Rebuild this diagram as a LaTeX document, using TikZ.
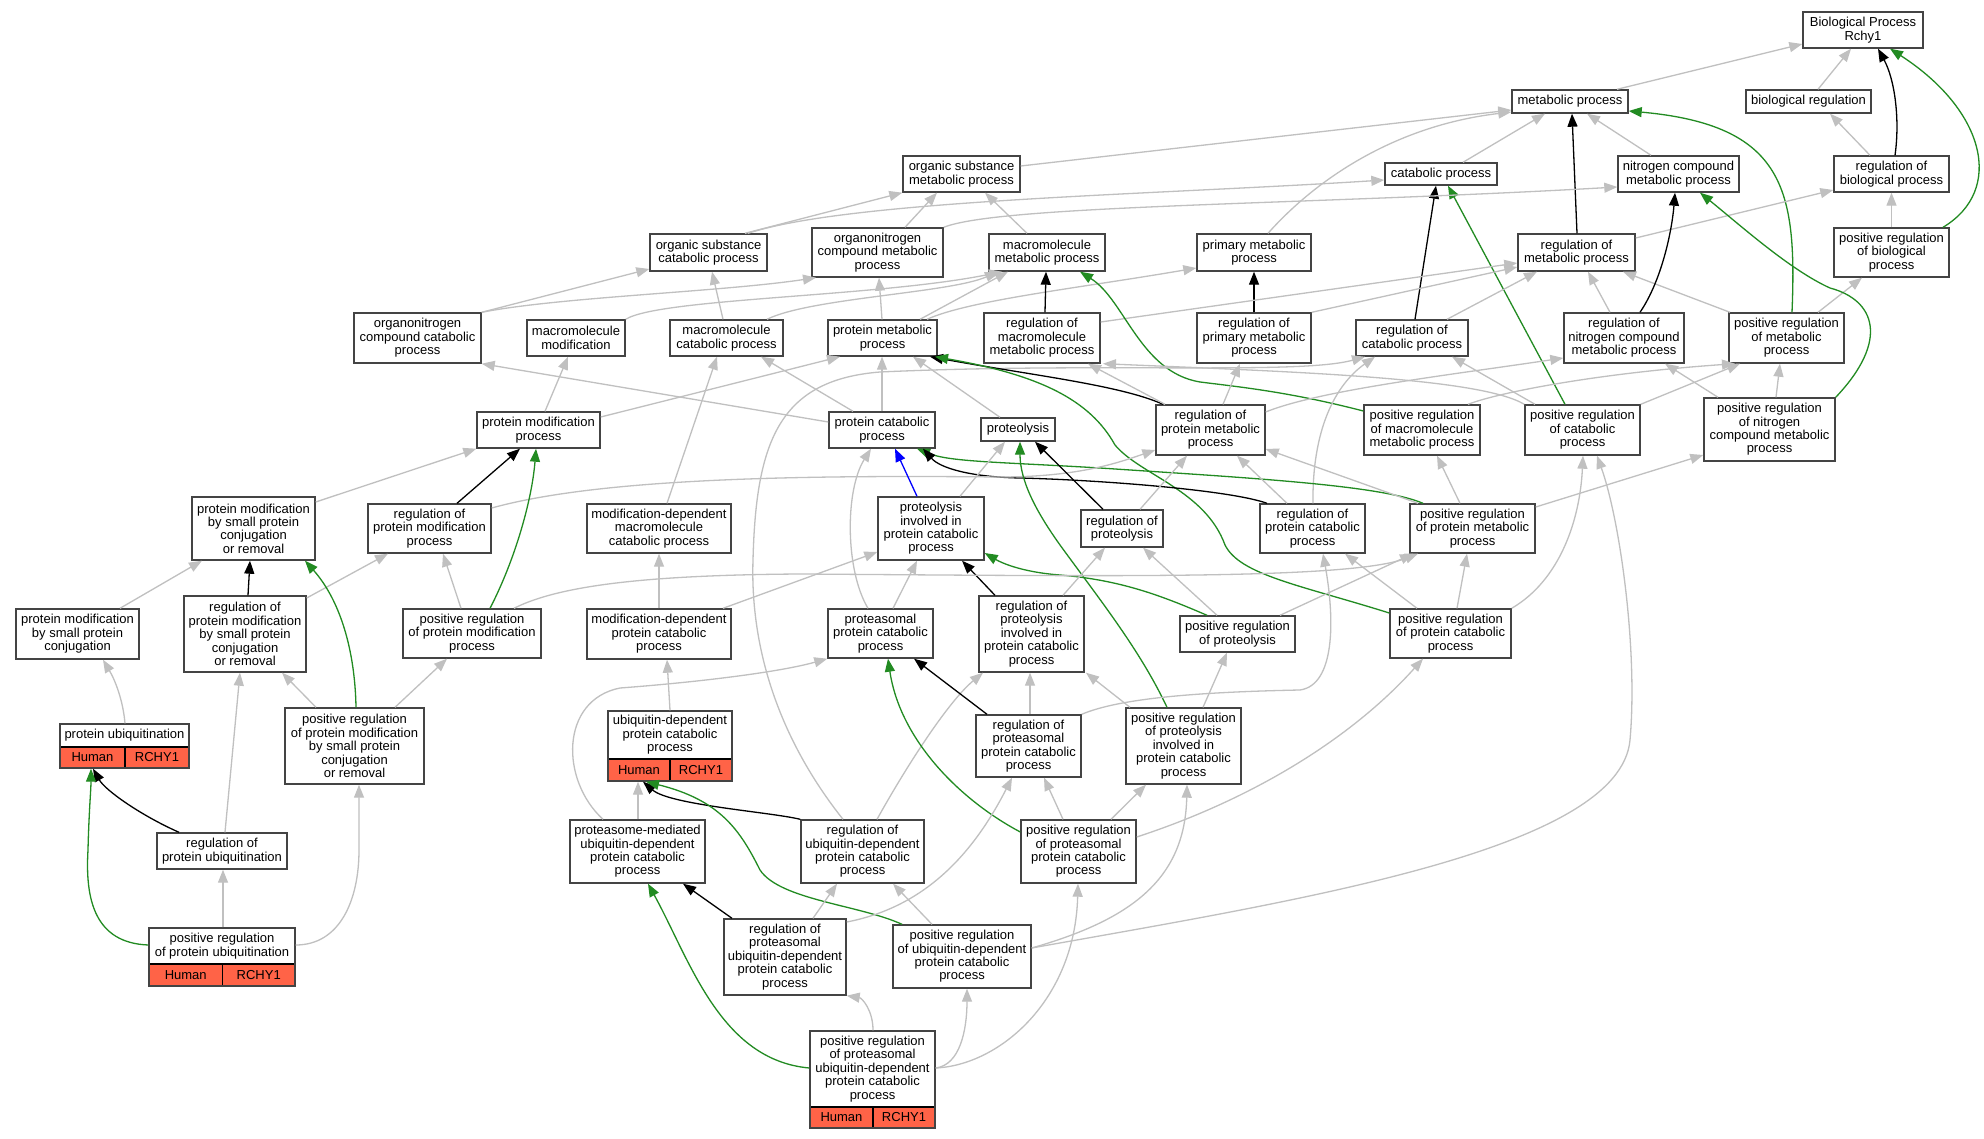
\documentclass[tikz,border=0pt]{standalone}
\usepackage{fontspec}
\setmainfont{Liberation Sans}
\usetikzlibrary{arrows.meta}
\definecolor{eg}{RGB}{192,192,192}
\definecolor{eG}{RGB}{34,139,34}
\definecolor{hred}{RGB}{255,99,71}
\definecolor{bline}{RGB}{68,68,68}
\tikzset{
 gbox/.style={draw=bline, line width=1.4pt, fill=white, rectangle, inner sep=0pt, align=center, font=\fontsize{13}{13.4}\selectfont},
 txt/.style={inner sep=0pt, align=center, font=\fontsize{13}{13.4}\selectfont},
 lnk/.style={line width=1.3pt, -{Triangle[length=13pt,width=10pt]}},
 ge/.style={lnk, draw=eg},
 be/.style={lnk, draw=black},
 gre/.style={lnk, draw=eG},
 ble/.style={lnk, draw=blue},
}
\newcommand\gonode[6]{\node[gbox, minimum width={(#4-#2)*1pt}, minimum height={(#5-#3)*1pt}] (#1) at ({(#2+#4)/2},{(#3+#5)/2}) {#6};}
\newcommand\gored[8]{%
 \node[gbox, minimum width={(#4-#2)*1pt}, minimum height={(#5-#3)*1pt}] (#1) at ({(#2+#4)/2},{(#3+#5)/2}) {};
 \fill[hred] (#2,#6) rectangle (#4,#5);
 \draw[black, line width=1.2pt] (#2,#6) -- (#4,#6) (#7,#6) -- (#7,#5);
 \draw[bline, line width=1.4pt] (#2,#3) rectangle (#4,#5);
 \node[txt] at ({(#2+#4)/2},{(#3+#6)/2}) {#8};
 \node[txt] at ({(#2+#7)/2},{(#6+#5)/2}) {Human};
 \node[txt] at ({(#7+#4)/2},{(#6+#5)/2}) {RCHY1};
}
\begin{document}
\begin{tikzpicture}[x=1pt,y=-1pt]
\useasboundingbox (0,0) rectangle (1984,1139);
\fill[white] (0,0) rectangle (1984,1139);
% nodes
\gonode{BP}{1803}{12}{1923}{48}{Biological Process\\Rchy1}
\gonode{MP}{1512}{90}{1628}{113}{metabolic process}
\gonode{BR}{1746}{90}{1871}{113}{biological regulation}
\gonode{OSMP}{903}{156}{1020}{192}{organic substance\\metabolic process}
\gonode{CP}{1385}{163}{1497}{185}{catabolic process}
\gonode{NCMP}{1618}{156}{1739}{192}{nitrogen compound\\metabolic process}
\gonode{RBP}{1834}{156}{1949}{192}{regulation of\\biological process}
\gonode{OSCP}{650}{234}{767}{271}{organic substance\\catabolic process}
\gonode{ONCMP}{812}{228}{943}{277}{organonitrogen\\compound metabolic\\process}
\gonode{MMP}{989}{234}{1105}{271}{macromolecule\\metabolic process}
\gonode{PrimMP}{1197}{234}{1311}{271}{primary metabolic\\process}
\gonode{RMP}{1518}{234}{1635}{271}{regulation of\\metabolic process}
\gonode{PRBP}{1834}{228}{1949}{277}{positive regulation\\of biological\\process}
\gonode{ONCCP}{354}{313}{481}{363}{organonitrogen\\compound catabolic\\process}
\gonode{MacroMod}{527}{320}{625}{356}{macromolecule\\modification}
\gonode{MCP}{670}{320}{783}{356}{macromolecule\\catabolic process}
\gonode{PMP}{828}{320}{937}{356}{protein metabolic\\process}
\gonode{RMMP}{984}{313}{1100}{363}{regulation of\\macromolecule\\metabolic process}
\gonode{RPrimMP}{1197}{313}{1311}{363}{regulation of\\primary metabolic\\process}
\gonode{RCP}{1356}{320}{1468}{356}{regulation of\\catabolic process}
\gonode{RNCMP}{1564}{313}{1684}{363}{regulation of\\nitrogen compound\\metabolic process}
\gonode{PRMP}{1729}{313}{1844}{363}{positive regulation\\of metabolic\\process}
\gonode{PModP}{477}{412}{600}{448}{protein modification\\process}
\gonode{PCP}{829}{412}{935}{448}{protein catabolic\\process}
\gonode{Prot}{981}{418}{1055}{441}{proteolysis}
\gonode{RPMP}{1156}{405}{1265}{455}{regulation of\\protein metabolic\\process}
\gonode{PRMMP}{1364}{405}{1480}{455}{positive regulation\\of macromolecule\\metabolic process}
\gonode{PRCP}{1525}{405}{1640}{455}{positive regulation\\of catabolic\\process}
\gonode{PRNCMP}{1704}{398}{1835}{461}{positive regulation\\of nitrogen\\compound metabolic\\process}
\gonode{PMSPCR}{192}{497}{315}{560}{protein modification\\by small protein\\conjugation\\or removal}
\gonode{RPModP}{368}{504}{491}{553}{regulation of\\protein modification\\process}
\gonode{MDMCP}{587}{504}{731}{553}{modification-dependent\\macromolecule\\catabolic process}
\gonode{PIPCP}{878}{497}{984}{560}{proteolysis\\involved in\\protein catabolic\\process}
\gonode{RP}{1081}{510}{1163}{547}{regulation of\\proteolysis}
\gonode{RPCP}{1260}{504}{1365}{553}{regulation of\\protein catabolic\\process}
\gonode{PRPMP}{1410}{504}{1535}{553}{positive regulation\\of protein metabolic\\process}
\gonode{PMSPC}{16}{609}{139}{659}{protein modification\\by small protein\\conjugation}
\gonode{RPMSPCR}{184}{596}{306}{672}{regulation of\\protein modification\\by small protein\\conjugation\\or removal}
\gonode{PRPModP}{403}{609}{541}{658}{positive regulation\\of protein modification\\process}
\gonode{MDPCP}{587}{609}{731}{659}{modification-dependent\\protein catabolic\\process}
\gonode{PPCP}{828}{609}{933}{658}{proteasomal\\protein catabolic\\process}
\gonode{RPIPCP}{979}{596}{1084}{672}{regulation of\\proteolysis\\involved in\\protein catabolic\\process}
\gonode{PRP}{1180}{616}{1295}{652}{positive regulation\\of proteolysis}
\gonode{PRPCP}{1390}{609}{1511}{658}{positive regulation\\of protein catabolic\\process}
\gored{PU}{60}{724}{189}{768}{747}{125}{protein ubiquitination}
\gonode{PRPMSPCR}{285}{708}{424}{784}{positive regulation\\of protein modification\\by small protein\\conjugation\\or removal}
\gored{UDPCP}{608}{711}{732}{781}{759}{670}{ubiquitin-dependent\\protein catabolic\\process}
\gonode{RPPCP}{976}{715}{1081}{777}{regulation of\\proteasomal\\protein catabolic\\process}
\gonode{PRPIPCP}{1126}{708}{1241}{784}{positive regulation\\of proteolysis\\involved in\\protein catabolic\\process}
\gonode{RPU}{157}{833}{287}{869}{regulation of\\protein ubiquitination}
\gonode{PMUDPCP}{570}{820}{705}{883}{proteasome-mediated\\ubiquitin-dependent\\protein catabolic\\process}
\gonode{RUDPCP}{801}{820}{924}{883}{regulation of\\ubiquitin-dependent\\protein catabolic\\process}
\gonode{PRPPCP}{1021}{820}{1136}{883}{positive regulation\\of proteasomal\\protein catabolic\\process}
\gonode{RPUDPCP}{724}{919}{846}{995}{regulation of\\proteasomal\\ubiquitin-dependent\\protein catabolic\\process}
\gonode{PRUDPCP}{893}{925}{1031}{988}{positive regulation\\of ubiquitin-dependent\\protein catabolic\\process}
\gored{PRPU}{149}{928}{295}{986}{964}{222.5}{positive regulation\\of protein ubiquitination}
\gored{PRPUDPCP}{810}{1031}{935}{1128}{1107}{873}{positive regulation\\of proteasomal\\ubiquitin-dependent\\protein catabolic\\process}
% edges top
\draw[ge] (MP.north -| 1617,0) -- (BP.west |- 0,44);
\draw[ge] (BR.north -| 1818,0) -- (BP.south -| 1851,0);
\draw[be] (RBP.north -| 1895,0) .. controls (1900,120) and (1895,80) .. (BP.south -| 1878,0);
\draw[gre] (PRBP.north -| 1943,0) .. controls (2005,190) and (1985,110) .. (BP.south -| 1890,0);
\draw[ge] (RBP.north -| 1870,0) -- (BR.south -| 1830,0);
\draw[ge] (PRBP.north) -- (RBP.south);
\draw[ge] (OSMP.east |- 0,166) -- (MP.west |- 0,110);
\draw[ge] (PrimMP.north -| 1268,0) .. controls (1320,175) and (1400,125) .. (MP.west |- 0,112);
\draw[ge] (CP.north -| 1463,0) -- (MP.south -| 1545,0);
\draw[ge] (NCMP.north -| 1651,0) -- (MP.south -| 1587,0);
\draw[be] (RMP.north -| 1577,0) -- (MP.south -| 1572,0);
\draw[gre] (PRMP.north -| 1792,0) .. controls (1797,190) and (1785,125) .. (MP.east |- 0,111);
\draw[ge] (RMP.east |- 0,238) -- (RBP.west |- 0,190);
\draw[ge] (PRMP.north -| 1818,0) -- (PRBP.south -| 1862,0);
\draw[ge] (PRMP.north -| 1730,0) -- (RMP.south -| 1623,0);
\draw[ge] (RNCMP.north -| 1610,0) -- (RMP.south -| 1588,0);
\draw[be] (RNCMP.north -| 1640,0) .. controls (1662,280) and (1672,230) .. (NCMP.south -| 1675,0);
\draw[gre] (PRNCMP.north east) .. controls (1890,340) and (1875,300) .. (1830,288) .. controls (1790,270) and (1740,225) .. (NCMP.south -| 1700,0);
\draw[ge] (PRNCMP.north -| 1776,0) -- (PRMP.south -| 1780,0);
\draw[ge] (PRNCMP.north -| 1718,0) -- (RNCMP.south -| 1665,0);
\draw[be] (RCP.north -| 1415,0) -- (CP.south -| 1436,0);
\draw[gre] (PRCP.north -| 1565,0) -- (CP.south -| 1448,0);
\draw[ge] (OSCP.north -| 748,0) .. controls (850,200) and (1150,195) .. (CP.west |- 0,180);
\draw[ge] (OSCP.north -| 745,0) -- (OSMP.south west);
\draw[ge] (ONCMP.north -| 905,0) -- (OSMP.south -| 937,0);
\draw[ge] (MMP.north -| 1027,0) -- (OSMP.south -| 985,0);
\draw[ge] (ONCMP.north east) .. controls (1000,205) and (1300,205) .. (NCMP.west |- 0,187);
\draw[ge] (MCP.north -| 723,0) -- (OSCP.south -| 712,0);
\draw[ge] (MCP.north -| 767,0) .. controls (810,298) and (950,293) .. (MMP.south -| 998,0);
\draw[ge] (ONCCP.north east) -- (OSCP.west |- 0,269);
\draw[ge] (ONCCP.north east) .. controls (560,297) and (720,292) .. (ONCMP.south -| 816,0);
\draw[ge] (MacroMod.north east) .. controls (660,298) and (880,297) .. (MMP.south -| 1002,0);
\draw[ge] (PMP.north -| 882,0) -- (ONCMP.south -| 879,0);
\draw[ge] (PMP.north -| 920,0) -- (MMP.south -| 1008,0);
\draw[ge] (PMP.north -| 927,0) .. controls (970,300) and (1080,288) .. (PrimMP.west |- 0,268);
\draw[be] (RMMP.north -| 1045,0) -- (MMP.south -| 1046,0);
\draw[be] (RPrimMP.north) -- (PrimMP.south);
\draw[ge] (RMMP.east |- 0,322) -- (RMP.west |- 0,263);
\draw[ge] (RPrimMP.north east) -- (RMP.west |- 0,267);
\draw[ge] (RCP.north -| 1447,0) -- (RMP.south -| 1537,0);
\draw[gre] (PRMMP.west |- 0,411) .. controls (1290,392) and (1240,387) .. (1200,382) .. controls (1140,372) and (1125,300) .. (MMP.south -| 1080,0);
\draw[ge] (PRMMP.north -| 1468,0) .. controls (1500,392) and (1600,373) .. (PRMP.south -| 1735,0);
\draw[ge] (PRCP.north east) -- (PRMP.south -| 1740,0);
\draw[ge] (PRCP.north -| 1535,0) -- (RCP.south -| 1452,0);
\draw[ge] (RPCP.north -| 1313,0) .. controls (1312,430) and (1335,385) .. (RCP.south -| 1375,0);
\draw[ge] (RUDPCP.north -| 843,0) .. controls (780,740) and (750,650) .. (753,560) .. controls (756,440) and (780,380) .. (880,372) .. controls (1100,362) and (1300,375) .. (RCP.south -| 1365,0);
% middle
\draw[be] (RPMP.north -| 1163,0) .. controls (1120,385) and (1030,375) .. (PMP.south -| 930,0);
\draw[gre] (PRPCP.west |- 0,613) .. controls (1300,585) and (1240,575) .. (1225,545) .. controls (1205,490) and (1140,475) .. (1115,445) .. controls (1090,400) and (1040,375) .. (PMP.south -| 935,0);
\draw[gre] (PRPMP.north -| 1423,0) .. controls (1380,485) and (1250,478) .. (1100,468) .. controls (1000,462) and (950,462) .. (PCP.south -| 917,0);
\draw[be] (RPCP.north -| 1267,0) .. controls (1230,490) and (1100,480) .. (1020,478) .. controls (970,477) and (940,468) .. (PCP.south -| 923,0);
\draw[ge] (RPMP.north -| 1223,0) -- (RPrimMP.south -| 1240,0);
\draw[ge] (RPMP.north -| 1165,0) -- (RMMP.south -| 1088,0);
\draw[ge] (RPMP.east |- 0,412) .. controls (1320,390) and (1450,375) .. (RNCMP.west |- 0,358);
\draw[ge] (PRCP.north west) .. controls (1480,378) and (1300,372) .. (RMMP.south -| 1103,0);
\draw[ge] (RPModP.east |- 0,508) .. controls (600,478) and (800,475) .. (1000,477) .. controls (1080,477) and (1120,462) .. (RPMP.west |- 0,450);
\draw[ge] (RP.north -| 1140,0) -- (RPMP.south -| 1187,0);
\draw[ge] (RPCP.north -| 1287,0) -- (RPMP.south -| 1237,0);
\draw[ge] (PRPMP.north -| 1418,0) -- (RPMP.east |- 0,449);
\draw[ge] (PRPMP.north -| 1460,0) -- (PRMMP.south -| 1437,0);
\draw[ge] (PRPMP.east |- 0,507) -- (PRNCMP.west |- 0,455);
\draw[ge] (PModP.north -| 545,0) -- (MacroMod.south -| 568,0);
\draw[ge] (PModP.east |- 0,417) -- (PMP.south -| 840,0);
\draw[ge] (PCP.north -| 882,0) -- (PMP.south -| 882,0);
\draw[ge] (PCP.north -| 853,0) -- (MCP.south -| 761,0);
\draw[ge] (PCP.west |- 0,422) -- (ONCCP.south east);
\draw[ge] (Prot.north -| 1000,0) -- (PMP.south -| 913,0);
\draw[be] (RP.north -| 1103,0) -- (Prot.south -| 1035,0);
\draw[gre] (PRPIPCP.north -| 1167,0) .. controls (1140,650) and (1100,600) .. (1060,545) .. controls (1035,510) and (1020,480) .. (Prot.south -| 1020,0);
\draw[gre] (PRP.north -| 1207,0) .. controls (1160,595) and (1120,580) .. (1060,575) .. controls (1020,572) and (1000,562) .. (PIPCP.east |- 0,553);
\draw[ble] (PIPCP.north -| 917,0) -- (PCP.south -| 895,0);
\draw[ge] (PIPCP.north -| 960,0) -- (Prot.south -| 1005,0);
\draw[ge] (MDMCP.north -| 667,0) -- (MCP.south -| 717,0);
\draw[ge] (MDPCP.north -| 659,0) -- (MDMCP.south -| 659,0);
\draw[ge] (MDPCP.north -| 723,0) -- (PIPCP.west |- 0,552);
\draw[ge] (PPCP.north -| 868,0) .. controls (845,570) and (845,490) .. (PCP.south -| 871,0);
\draw[ge] (PPCP.north -| 893,0) -- (PIPCP.south -| 917,0);
\draw[be] (RPIPCP.north -| 995,0) -- (PIPCP.south -| 962,0);
\draw[ge] (RPIPCP.north -| 1063,0) -- (RP.south -| 1105,0);
\draw[ge] (PRP.north -| 1217,0) -- (RP.south -| 1143,0);
\draw[ge] (PRP.north -| 1280,0) -- (PRPMP.south -| 1413,0);
\draw[ge] (RPPCP.north east) .. controls (1120,698) and (1200,692) .. (1300,690) .. controls (1335,685) and (1335,620) .. (RPCP.south -| 1323,0);
\draw[ge] (PRPIPCP.north -| 1203,0) -- (PRP.south -| 1227,0);
\draw[ge] (PRPIPCP.north -| 1130,0) -- (RPIPCP.south -| 1086,0);
\draw[ge] (PRPCP.north -| 1417,0) -- (RPCP.south -| 1345,0);
\draw[ge] (PRPCP.north -| 1457,0) -- (PRPMP.south -| 1467,0);
\draw[ge] (PRPCP.north east) .. controls (1560,580) and (1580,520) .. (PRCP.south -| 1583,0);
\draw[ge] (PRUDPCP.east |- 0,948) .. controls (1300,900) and (1620,850) .. (1630,740) .. controls (1638,650) and (1620,520) .. (PRCP.south -| 1597,0);
\draw[ge] (PRPModP.north -| 514,0) .. controls (560,585) and (650,575) .. (800,574) .. controls (1100,576) and (1350,580) .. (PRPMP.south -| 1418,0);
% left
\draw[ge] (PMSPCR.east |- 0,502) -- (PModP.south west);
\draw[be] (RPModP.north -| 457,0) -- (PModP.south -| 520,0);
\draw[gre] (PRPModP.north -| 490,0) .. controls (515,560) and (532,500) .. (PModP.south -| 536,0);
\draw[ge] (PMSPC.north -| 120,0) -- (PMSPCR.south -| 202,0);
\draw[be] (RPMSPCR.north -| 248,0) -- (PMSPCR.south -| 250,0);
\draw[ge] (RPMSPCR.east |- 0,598) -- (RPModP.south -| 388,0);
\draw[ge] (PRPModP.north -| 461,0) -- (RPModP.south -| 443,0);
\draw[gre] (PRPMSPCR.north -| 356,0) .. controls (355,650) and (340,600) .. (PMSPCR.south -| 305,0);
\draw[ge] (PRPMSPCR.north -| 316,0) -- (RPMSPCR.south -| 282,0);
\draw[ge] (PRPMSPCR.north -| 395,0) -- (PRPModP.south -| 447,0);
\draw[ge] (PU.north -| 125,0) .. controls (123,700) and (115,680) .. (PMSPC.south -| 103,0);
\draw[ge] (RPU.north -| 225,0) -- (RPMSPCR.south -| 240,0);
\draw[be] (RPU.north -| 179,0) .. controls (140,815) and (105,790) .. (PU.south -| 93,0);
\draw[gre] (PRPU.west |- 0,945) .. controls (95,943) and (85,900) .. (88,850) .. controls (89,810) and (91,790) .. (PU.south -| 91,0);
\draw[ge] (PRPU.north -| 223,0) -- (RPU.south -| 223,0);
\draw[ge] (PRPU.east |- 0,945) .. controls (340,945) and (359,900) .. (359,850) -- (PRPMSPCR.south -| 359,0);
% bottom
\draw[ge] (UDPCP.north -| 670,0) -- (MDPCP.south -| 667,0);
\draw[ge] (PMUDPCP.north -| 603,0) .. controls (560,780) and (560,700) .. (620,688) .. controls (700,682) and (780,672) .. (PPCP.south west);
\draw[ge] (PMUDPCP.north -| 638,0) -- (UDPCP.south -| 638,0);
\draw[be] (RUDPCP.north west) .. controls (770,812) and (670,805) .. (UDPCP.south -| 643,0);
\draw[gre] (PRUDPCP.north -| 902,0) .. controls (860,905) and (780,900) .. (760,870) .. controls (740,830) and (720,800) .. (UDPCP.south -| 646,0);
\draw[ge] (RUDPCP.north -| 877,0) .. controls (910,760) and (950,700) .. (RPIPCP.south -| 983,0);
\draw[be] (RPPCP.north -| 987,0) -- (PPCP.south -| 914,0);
\draw[ge] (RPPCP.north -| 1030,0) -- (RPIPCP.south -| 1030,0);
\draw[gre] (PRPPCP.west |- 0,832) .. controls (960,800) and (900,740) .. (PPCP.south -| 888,0);
\draw[ge] (PRPPCP.north -| 1063,0) -- (RPPCP.south -| 1044,0);
\draw[ge] (PRPPCP.north -| 1111,0) -- (PRPIPCP.south -| 1146,0);
\draw[ge] (PRPPCP.east |- 0,837) .. controls (1250,800) and (1350,740) .. (PRPCP.south -| 1423,0);
\draw[be] (RPUDPCP.north -| 732,0) -- (PMUDPCP.south -| 683,0);
\draw[ge] (RPUDPCP.north -| 813,0) -- (RUDPCP.south -| 837,0);
\draw[ge] (RPUDPCP.east |- 0,922) .. controls (920,908) and (970,860) .. (RPPCP.south -| 1012,0);
\draw[ge] (PRUDPCP.north -| 932,0) -- (RUDPCP.south -| 893,0);
\draw[ge] (PRUDPCP.east |- 0,948) .. controls (1130,920) and (1185,880) .. (PRPIPCP.south -| 1187,0);
\draw[gre] (PRPUDPCP.west |- 0,1068) .. controls (720,1060) and (690,960) .. (PMUDPCP.south -| 648,0);
\draw[ge] (PRPUDPCP.north -| 873,0) .. controls (873,1010) and (862,998) .. (RPUDPCP.south east);
\draw[ge] (PRPUDPCP.east |- 0,1068) .. controls (960,1065) and (967,1030) .. (PRUDPCP.south -| 967,0);
\draw[ge] (PRPUDPCP.east |- 0,1068) .. controls (1000,1065) and (1075,1000) .. (PRPPCP.south -| 1078,0);
\end{tikzpicture}
\end{document}
